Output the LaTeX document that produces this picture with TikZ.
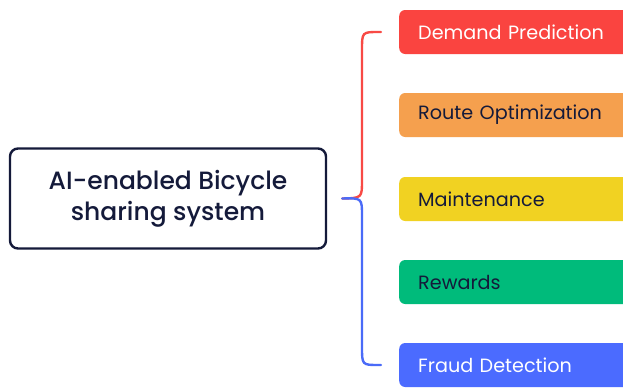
\documentclass[tikz,border=0pt]{standalone}
\usepackage{fontspec}
\setmainfont{Poppins}
\newfontfamily\medfont{Poppins Medium}
\definecolor{navy}{HTML}{141A3A}
\definecolor{cRed}{HTML}{FA4440}
\definecolor{cOrange}{HTML}{F5A04E}
\definecolor{cYellow}{HTML}{F1D222}
\definecolor{cGreen}{HTML}{00BB7B}
\definecolor{cBlue}{HTML}{4B6BFF}
\definecolor{braceRed}{HTML}{F84A45}
\definecolor{braceBlue}{HTML}{4A6BF8}
\begin{document}
\begin{tikzpicture}[x=1pt,y=-1pt,
  topic/.style={draw=navy,line width=2.4pt,rounded corners=8pt,fill=white,
    minimum width=316pt,minimum height=100pt,align=center,text=navy,
    font=\medfont\fontsize{25}{31}\selectfont},
  leaf/.style={rounded corners=6pt,anchor=west,minimum height=44pt,
    minimum width=250pt,text width=212pt,inner xsep=19pt,align=left,
    font=\fontsize{19.2}{20}\selectfont},
  bracepart/.style={line width=2.4pt,line cap=round}]
\useasboundingbox (0,0) rectangle (623,389);
\clip (0,0) rectangle (623,389);
\fill[white] (0,0) rectangle (623,389);

% central topic
\node[topic] (main) at (168,198.5) {AI-enabled Bicycle\\sharing system};

% branch boxes
\node[leaf,fill=cRed,text=white]   (b1) at (399,32)  {Demand Prediction};
\node[leaf,fill=cOrange,text=navy] (b2) at (399,115) {Route Optimization};
\node[leaf,fill=cYellow,text=navy] (b3) at (399,199) {Maintenance};
\node[leaf,fill=cGreen,text=navy]  (b4) at (399,282) {Rewards};
\node[leaf,fill=cBlue,text=white]  (b5) at (399,365) {Fraud Detection};

% brace joining the topic to the branches
\coordinate (mid) at ([xshift=15pt]main.east);
\coordinate (topend) at ([xshift=-18pt]b1.west);
\coordinate (botend) at ([xshift=-18pt]b5.west);
\draw[bracepart,braceRed] (topend) -- ++(-2,0)
  .. controls (362,32) .. (362,50) -- (362,180)
  .. controls (362,198) .. (mid);
\draw[bracepart,braceBlue] (mid)
  .. controls (362,198) .. (362,216) -- (362,347)
  .. controls (362,365) .. ([xshift=-2pt]botend) -- (botend);
\end{tikzpicture}
\end{document}
